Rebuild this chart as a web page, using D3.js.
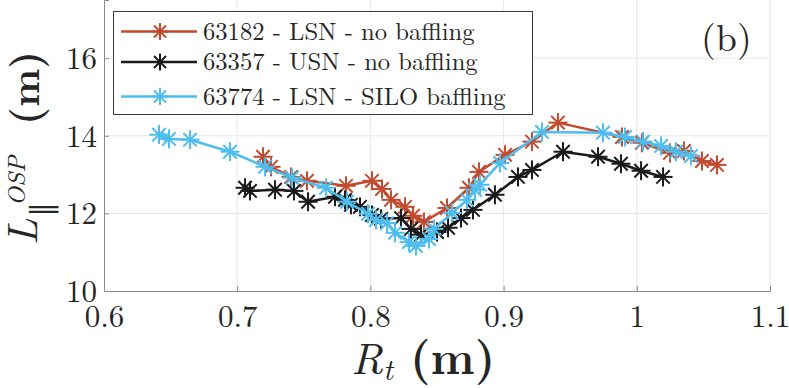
<!DOCTYPE html>
<html>
<head>
<meta charset="utf-8">
<script src="https://cdn.jsdelivr.net/npm/d3@7"></script>
<style>
  html, body { margin: 0; padding: 0; background: #fff; }
  svg { display: block; }
</style>
</head>
<body>
<svg id="chart" width="789" height="388"></svg>
<script>
// ---- data ----
const seriesNames = ["63182 - LSN - no baffling", "63357 - USN - no baffling", "63774 - LSN - SILO baffling"];
const seriesColors = ["#C24A2E", "#1a1a1a", "#4DBEEE"];

const redX = [0.7194, 0.7254, 0.7404, 0.7524, 0.7817, 0.8012, 0.8087, 0.8155, 0.8260, 0.8320, 0.8402, 0.8575, 0.8740, 0.8815, 0.9011, 0.9213, 0.9408, 0.9889, 1.0039, 1.0249, 1.0354, 1.0489, 1.0602];
const redY = [13.46, 13.20, 12.94, 12.84, 12.71, 12.84, 12.63, 12.35, 12.17, 11.94, 11.78, 12.14, 12.66, 13.07, 13.51, 13.85, 14.34, 13.97, 13.82, 13.56, 13.61, 13.35, 13.25];

const blackX = [0.7059, 0.7096, 0.7284, 0.7426, 0.7532, 0.7734, 0.7809, 0.7854, 0.7922, 0.8012, 0.8080, 0.8230, 0.8305, 0.8380, 0.8500, 0.8583, 0.8680, 0.8770, 0.8935, 0.9108, 0.9213, 0.9446, 0.9709, 0.9881, 1.0032, 1.0197];
const blackY = [12.66, 12.58, 12.61, 12.58, 12.30, 12.43, 12.35, 12.22, 12.17, 11.96, 11.86, 11.88, 11.60, 11.45, 11.52, 11.63, 11.88, 12.09, 12.48, 12.94, 13.12, 13.59, 13.46, 13.28, 13.10, 12.94];

const blueX = [0.6413, 0.6488, 0.6646, 0.6946, 0.7209, 0.7411, 0.7667, 0.7824, 0.7982, 0.8042, 0.8125, 0.8185, 0.8290, 0.8342, 0.8440, 0.8477, 0.8613, 0.8725, 0.8785, 0.8823, 0.8973, 0.9288, 0.9746, 0.9911, 1.0047, 1.0182, 1.0294, 1.0407];
const blueY = [14.03, 13.92, 13.90, 13.59, 13.20, 12.92, 12.66, 12.30, 11.99, 11.83, 11.75, 11.50, 11.26, 11.16, 11.34, 11.60, 12.01, 12.35, 12.61, 12.74, 13.30, 14.10, 14.08, 13.97, 13.85, 13.74, 13.59, 13.48];

const xTicks = [0.6, 0.7, 0.8, 0.9, 1.0, 1.1];
const xTickLabels = ["0.6", "0.7", "0.8", "0.9", "1", "1.1"];
const yTicks = [10, 12, 14, 16];
const yTickLabels = ["10", "12", "14", "16"];
const panelLabel = "(b)";

const FONT = '"Latin Modern Roman", "CMU Serif", "Liberation Serif", serif';
const TXT = "#262626";

// ---- layout ----
const svg = d3.select("#chart");
const L = 104, R = 770, T = 0, B = 291;
const x = d3.scaleLinear().domain([0.6, 1.1]).range([L, R]);
const y = d3.scaleLinear().domain([10, 17.5]).range([B, T]);

// grid
const grid = svg.append("g");
grid.selectAll("line.gx").data(xTicks.slice(1)).enter().append("line")
  .attr("x1", d => x(d)).attr("x2", d => x(d)).attr("y1", T).attr("y2", B)
  .attr("stroke", "#e6e6e6").attr("stroke-width", 1);
grid.selectAll("line.gy").data(yTicks.slice(1)).enter().append("line")
  .attr("x1", L).attr("x2", R).attr("y1", d => y(d)).attr("y2", d => y(d))
  .attr("stroke", "#e6e6e6").attr("stroke-width", 1);

// axes
const xAxis = d3.axisBottom(x).tickValues(xTicks).tickSize(-5).tickFormat((d, i) => xTickLabels[i]);
const gx = svg.append("g").attr("transform", `translate(0,${B})`).call(xAxis);
gx.attr("font-family", null).attr("font-size", null);
gx.select(".domain").attr("stroke", "#8a8a8a").attr("stroke-width", 1);
gx.selectAll(".tick line").attr("stroke", "#8a8a8a");
gx.selectAll(".tick text").style("font-family", FONT).style("font-size", "31px")
  .attr("fill", TXT).attr("y", 14).attr("dy", "0.72em");

const yAxis = d3.axisLeft(y).tickValues(yTicks).tickSize(-5).tickFormat((d, i) => yTickLabels[i]);
const gy = svg.append("g").attr("transform", `translate(${L},0)`).call(yAxis);
gy.attr("font-family", null).attr("font-size", null);
gy.select(".domain").attr("stroke", "#8a8a8a").attr("stroke-width", 1);
gy.selectAll(".tick line").attr("stroke", "#8a8a8a");
gy.selectAll(".tick text").style("font-family", FONT).style("font-size", "31px")
  .attr("fill", TXT).attr("x", -7).attr("dy", "0.33em");

// star marker
function star(g, cx, cy, r, color, w) {
  const s = g.append("g").attr("transform", `translate(${cx},${cy})`)
    .attr("stroke", color).attr("stroke-width", w).attr("stroke-linecap", "butt");
  const d = r * Math.SQRT1_2;
  s.append("line").attr("x1", -r).attr("x2", r).attr("y1", 0).attr("y2", 0);
  s.append("line").attr("x1", 0).attr("x2", 0).attr("y1", -r).attr("y2", r);
  s.append("line").attr("x1", -d).attr("x2", d).attr("y1", -d).attr("y2", d);
  s.append("line").attr("x1", -d).attr("x2", d).attr("y1", d).attr("y2", -d);
}

const series = [
  { xs: redX, ys: redY },
  { xs: blackX, ys: blackY },
  { xs: blueX, ys: blueY }
];
const line = d3.line().x(d => x(d[0])).y(d => y(d[1]));
const plot = svg.append("g");
series.forEach((s, i) => {
  const pts = s.xs.map((v, j) => [v, s.ys[j]]);
  const g = plot.append("g");
  g.append("path").datum(pts).attr("d", line).attr("fill", "none")
    .attr("stroke", seriesColors[i]).attr("stroke-width", 2.5).attr("stroke-linejoin", "round");
  pts.forEach(p => star(g, x(p[0]), y(p[1]), 9.5, seriesColors[i], 2));
});

// legend
const lg = svg.append("g");
lg.append("rect").attr("x", 113.5).attr("y", 11.5).attr("width", 419).attr("height", 103)
  .attr("fill", "#fff").attr("stroke", "#3a3a3a").attr("stroke-width", 1);
const rowsY = [31.5, 62, 96.5];
seriesNames.forEach((n, i) => {
  lg.append("line").attr("x1", 121).attr("x2", 197).attr("y1", rowsY[i]).attr("y2", rowsY[i])
    .attr("stroke", seriesColors[i]).attr("stroke-width", 2.5);
  star(lg, 160, rowsY[i], 8.5, seriesColors[i], 2);
  lg.append("text").attr("x", 203).attr("y", rowsY[i] + 8)
    .style("font-family", FONT).style("font-size", "24.6px").attr("fill", TXT).text(n);
});

// panel label
svg.append("text").attr("x", 701).attr("y", 51)
  .style("font-family", FONT).style("font-size", "38px").attr("fill", TXT).text(panelLabel);

// x label
const xl = svg.append("text").attr("x", 351).attr("y", 374)
  .style("font-family", FONT).attr("fill", TXT);
xl.append("tspan").style("font-style", "italic").style("font-size", "44px").text("R");
xl.append("tspan").style("font-style", "italic").style("font-size", "30px").attr("dy", 6).text("t");
xl.append("tspan").style("font-weight", "bold").style("font-size", "46px").attr("x", 410).attr("dy", -6).text("(m)");

// y label
const yl = svg.append("g").attr("transform", "translate(37,0) rotate(-90)")
  .style("font-family", FONT).attr("fill", TXT);
yl.append("text").attr("x", -245).attr("y", 0).style("font-style", "italic").style("font-size", "42px").text("L");
yl.append("text").attr("x", -217).attr("y", 15).style("font-size", "30px").text("\u2225");
yl.append("text").attr("x", -206).attr("y", -12).style("font-style", "italic").style("font-size", "25px").text("OSP");
yl.append("text").attr("x", -125).attr("y", 2).style("font-weight", "bold").style("font-size", "40px").text("(m)");
</script>
</body>
</html>
